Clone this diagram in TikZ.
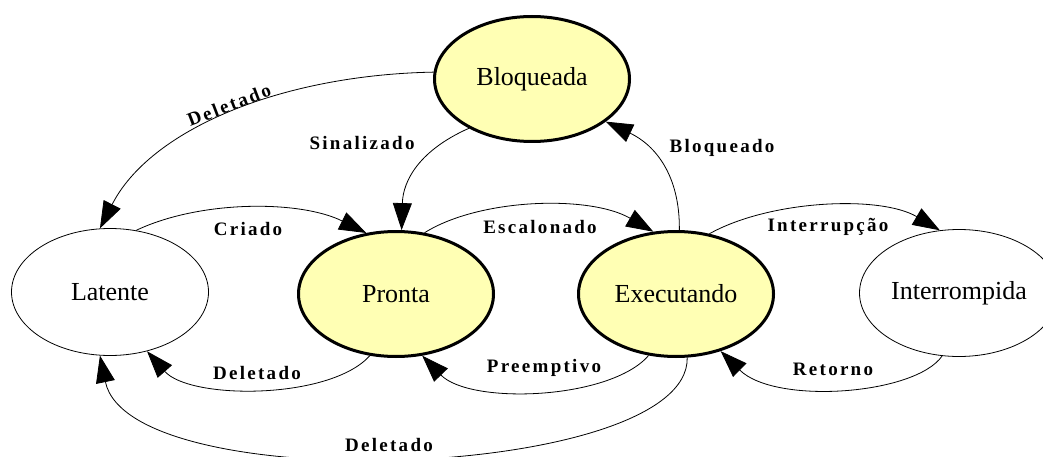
\documentclass[tikz,border=0pt]{standalone}
\usepackage{fontspec}
\setmainfont{Liberation Serif}
\newfontfamily\lblfont[LetterSpace=12]{Liberation Serif}
\usetikzlibrary{shapes.geometric,arrows.meta}
\definecolor{stfill}{RGB}{255,255,180}
\tikzset{
  state/.style={ellipse, draw, line width=0.8pt, minimum width=197pt, minimum height=127pt, inner sep=0pt,
    font=\fontsize{26}{30}\selectfont},
  active/.style={state, line width=3pt, fill=stfill, minimum width=195pt, minimum height=125pt},
  edge/.style={line width=0.8pt, -{Triangle[length=27pt,width=19pt]}},
  lbl/.style={font=\lblfont\bfseries\fontsize{19}{22}\selectfont, inner sep=0pt}
}
\begin{document}
\begin{tikzpicture}[x=1pt,y=-1pt]
\useasboundingbox (0,0) rectangle (1043,457);
\node[active] (bloq) at (532,79) {Bloqueada};
\node[state] (lat) at (110,292) {Latente};
\node[active] (pron) at (396,294) {Pronta};
\node[active] (exec) at (676,294) {Executando};
\node[state, minimum width=199pt] (intr) at (959,293) {Interrompida};

% Bloqueada -> Latente
\draw[edge] (bloq.176) .. controls (280,75) and (150,130) .. (lat.99);
\node[lbl, rotate=21] (l1) at (229,105) {Deletado};
% Bloqueada -> Pronta
\draw[edge] (bloq.218) .. controls (420,150) and (403,180) .. (pron.85);
\node[lbl] (l2) at (362,143) {Sinalizado};
% Latente -> Pronta
\draw[edge] (lat.67) .. controls (200,200) and (300,200) .. (pron.116);
\node[lbl] (l3) at (248,229) {Criado};
% Pronta -> Executando
\draw[edge] (pron.65) .. controls (480,198) and (590,195) .. (exec.110);
\node[lbl] (l4) at (540,227) {Escalonado};
% Executando -> Bloqueada
\draw[edge] (exec.87) .. controls (680,175) and (655,145) .. (bloq.-30);
\node[lbl] (l5) at (722,148) {Bloqueado};
% Executando -> Interrompida
\draw[edge] (exec.61) .. controls (770,200) and (880,195) .. (intr.107);
\node[lbl] (l6) at (828,227) {Interrupção};
% Interrompida -> Executando
\draw[edge] (intr.255) .. controls (915,395) and (775,405) .. (exec.308);
\node[lbl] (l7) at (833,369) {Retorno};
% Executando -> Pronta
\draw[edge] (exec.246) .. controls (610,400) and (470,405) .. (pron.293);
\node[lbl] (l8) at (544,368) {Preemptivo};
% Pronta -> Latente
\draw[edge] (pron.247) .. controls (330,400) and (190,400) .. (lat.302);
\node[lbl] (l9) at (257,373) {Deletado};
% Executando -> Latente
\draw[edge] (exec.280) .. controls (690,480) and (130,500) .. (lat.261);
\node[lbl] (l10) at (389,445) {Deletado};
\end{tikzpicture}
\end{document}
